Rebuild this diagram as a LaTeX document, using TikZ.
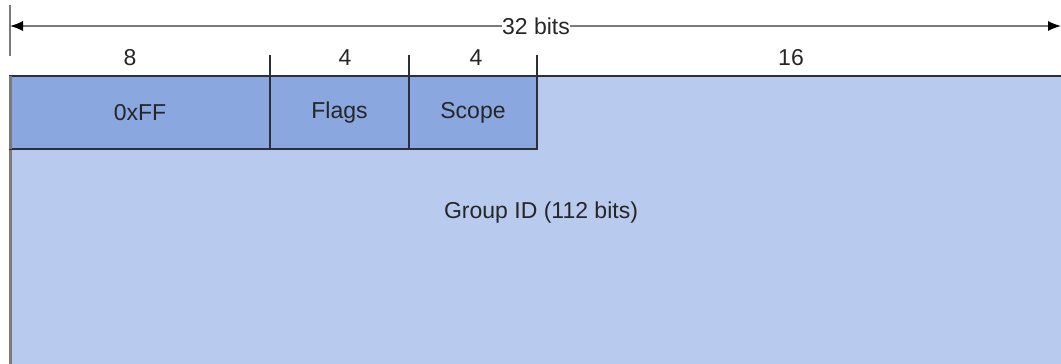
\documentclass[tikz,border=0pt]{standalone}
\usepackage{fontspec}
\setmainfont{Liberation Sans}
\usetikzlibrary{arrows.meta}
\definecolor{bigfill}{HTML}{B8CAEE}
\definecolor{smallfill}{HTML}{8BA7E0}
\definecolor{txt}{HTML}{262626}
\definecolor{edge}{HTML}{2A2F38}
\definecolor{dimgray}{HTML}{7A7A7A}
\begin{document}
\begin{tikzpicture}[x=1pt,y=-1pt,
  field/.style={draw=edge,line width=1.2pt,fill=smallfill,inner sep=0pt,outer sep=0pt,
    font=\fontsize{23}{27}\selectfont,text=txt},
  lbl/.style={font=\fontsize{23}{27}\selectfont,text=txt,inner sep=1pt},
  tick/.style={draw=edge,line width=1.4pt},
  dimline/.style={draw=dimgray,line width=1.3pt}]
\useasboundingbox (0,0) rectangle (1061,364);
\clip (0,0) rectangle (1061,364);
% big field
\node[field,fill=bigfill,draw=none,minimum width=1060pt,minimum height=300pt,anchor=north west] (group) at (10,76) {};
\draw[edge,line width=1.2pt] (group.north west) -- (group.north east);
\draw[dimgray,line width=2.5pt] ([xshift=0.5pt]group.north west) -- ([xshift=0.5pt]group.south west);
\node[lbl] (gid) at (541,213) {Group ID (112 bits)};
% small fields
\node[field,minimum width=260pt,minimum height=73pt,anchor=north west] (ff) at (10,76) {0xFF};
\node[field,minimum width=139pt,minimum height=73pt,anchor=north west] (flags) at (ff.north east) {Flags};
\node[field,minimum width=128pt,minimum height=73pt,anchor=north west] (scope) at (flags.north east) {Scope};
\draw[dimgray,line width=2.5pt] ([xshift=0.5pt]ff.north west) -- ([xshift=0.5pt]ff.south west);
% ticks
\coordinate (t0) at (10,5);
\coordinate (t0b) at (10,56);
\coordinate (t1) at (270,55);
\coordinate (t2) at (409,55);
\coordinate (t3) at (537,55);
\draw[dimline] (t0) -- (t0b);
\draw[tick] (t1) -- (ff.north east);
\draw[tick] (t2) -- (flags.north east);
\draw[tick] (t3) -- (scope.north east);
% widths
\node[lbl] (w8) at (130,58) {8};
\node[lbl] (w4a) at (345,58) {4};
\node[lbl] (w4b) at (476,58) {4};
\node[lbl] (w16) at (791,58) {16};
% 32 bits arrow
\node[lbl,inner sep=0pt] (bits) at (536,26) {32 bits};
\coordinate (aL) at (10,26);
\coordinate (aR) at (1061,26);
\draw[dimline,-{Latex[length=13pt,width=10pt,color=black]}] (bits.west) -- (aL);
\draw[dimline,-{Latex[length=13pt,width=10pt,color=black]}] (bits.east) -- (aR);
\end{tikzpicture}
\end{document}
